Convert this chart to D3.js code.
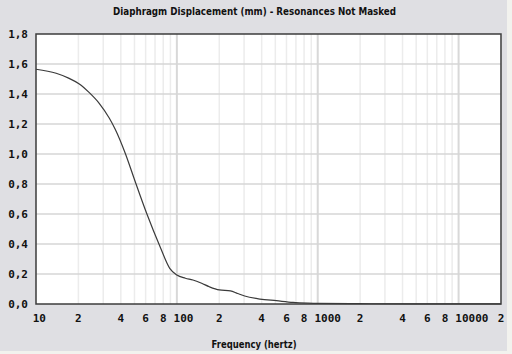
<!DOCTYPE html>
<html>
<head>
<meta charset="utf-8">
<script src="https://cdn.jsdelivr.net/npm/d3@7"></script>
<style>
  body { margin: 0; background: #f2f2ee; }
  svg { display: block; }
</style>
</head>
<body>
<div id="chart"></div>
<script>
// data
const freqs  = [10, 13.9, 17.2, 20.3, 23.9, 28.1, 33.1, 36.5, 43, 50, 61, 76, 89, 100, 115, 130, 150, 170, 200, 240, 270, 303, 388, 509, 668, 850, 1000, 2000, 5000, 20000];
const disp   = [1.565, 1.538, 1.504, 1.467, 1.409, 1.338, 1.24, 1.165, 1.005, 0.83, 0.605, 0.382, 0.238, 0.193, 0.172, 0.16, 0.138, 0.115, 0.094, 0.088, 0.07, 0.053, 0.033, 0.022, 0.011, 0.006, 0.004, 0.002, 0.001, 0.001];
const yTicks = [0, 0.2, 0.4, 0.6, 0.8, 1.0, 1.2, 1.4, 1.6, 1.8];
const decades = [10, 100, 1000, 10000];
const xTickLabels = [
  [10, "10"], [20, "2"], [40, "4"], [60, "6"], [80, "8"],
  [100, "100"], [200, "2"], [400, "4"], [600, "6"], [800, "8"],
  [1000, "1000"], [2000, "2"], [4000, "4"], [6000, "6"], [8000, "8"],
  [10000, "10000"], [20000, "2"]
];
const title = "Diaphragm Displacement (mm) - Resonances Not Masked";
const xTitle = "Frequency (hertz)";

const width = 512, height = 354;
const margin = { top: 34, right: 11, bottom: 50, left: 36 };
const innerWidth = width - margin.left - margin.right;
const innerHeight = height - margin.top - margin.bottom;

const svg = d3.select('#chart').append('svg')
  .attr('width', width)
  .attr('height', height);

// panel background
svg.append('rect')
  .attr('width', 507).attr('height', 351)
  .attr('fill', '#dfdfe3');

const g = svg.append('g')
  .attr('transform', `translate(${margin.left},${margin.top})`);

const x = d3.scaleLog().domain([10, 20000]).range([0, innerWidth]);
const y = d3.scaleLinear().domain([0, 1.8]).range([innerHeight, 0]);

g.append('rect')
  .attr('width', innerWidth).attr('height', innerHeight)
  .attr('fill', '#fff');

// minor vertical grid
const minor = [];
decades.forEach(d => { for (let k = 2; k <= 9; k++) if (d * k <= 20000) minor.push(d * k); });
g.append('g').selectAll('line')
  .data(minor)
  .join('line')
  .attr('x1', d => x(d)).attr('x2', d => x(d))
  .attr('y1', 0).attr('y2', innerHeight)
  .attr('stroke', '#ececec')
  .attr('stroke-width', 1.5);

// decade lines
g.append('g').selectAll('line')
  .data(decades.slice(1))
  .join('line')
  .attr('x1', d => x(d)).attr('x2', d => x(d))
  .attr('y1', 0).attr('y2', innerHeight)
  .attr('stroke', '#d8d8d8')
  .attr('stroke-width', 2);

// horizontal grid
g.append('g').selectAll('line')
  .data(yTicks.slice(1, -1))
  .join('line')
  .attr('x1', 0).attr('x2', innerWidth)
  .attr('y1', d => y(d)).attr('y2', d => y(d))
  .attr('stroke', '#d6d6d6')
  .attr('stroke-width', 1.5);

// curve
const line = d3.line()
  .x((d, i) => x(freqs[i]))
  .y(d => y(d))
  .curve(d3.curveMonotoneX);

g.append('path')
  .datum(disp)
  .attr('fill', 'none')
  .attr('stroke', '#3a3a3a')
  .attr('stroke-width', 1.2)
  .attr('d', line);

// frame
g.append('rect')
  .attr('width', innerWidth).attr('height', innerHeight)
  .attr('fill', 'none')
  .attr('stroke', '#3c3c3c')
  .attr('stroke-width', 1.5);

const monoFont = '"DejaVu Sans Mono", monospace';

// y labels
g.append('g').selectAll('text')
  .data(yTicks)
  .join('text')
  .attr('x', -8)
  .attr('y', d => y(d) + 4)
  .attr('text-anchor', 'end')
  .attr('font-family', monoFont)
  .attr('font-weight', 'bold')
  .attr('font-size', '11px')
  .attr('fill', '#111')
  .text(d => d3.format('.1f')(d).replace('.', ','));

// x labels: first digit centred on its tick
g.append('g').selectAll('text')
  .data(xTickLabels)
  .join('text')
  .attr('x', d => x(d[0]) - 3.3)
  .attr('y', innerHeight + 18)
  .attr('text-anchor', 'start')
  .attr('font-family', monoFont)
  .attr('font-weight', 'bold')
  .attr('font-size', '11px')
  .attr('fill', '#111')
  .text(d => d[1]);

svg.append('text')
  .attr('x', 254.5)
  .attr('y', 15)
  .attr('text-anchor', 'middle')
  .attr('font-family', '"DejaVu Sans", sans-serif')
  .attr('font-weight', 'bold')
  .attr('font-size', '10px')
  .attr('textLength', 283)
  .attr('lengthAdjust', 'spacingAndGlyphs')
  .attr('fill', '#111')
  .text(title);

svg.append('text')
  .attr('x', 254)
  .attr('y', 348)
  .attr('text-anchor', 'middle')
  .attr('font-family', '"DejaVu Sans", sans-serif')
  .attr('font-weight', 'bold')
  .attr('font-size', '10px')
  .attr('textLength', 85)
  .attr('lengthAdjust', 'spacingAndGlyphs')
  .attr('fill', '#111')
  .text(xTitle);
</script>
</body>
</html>
